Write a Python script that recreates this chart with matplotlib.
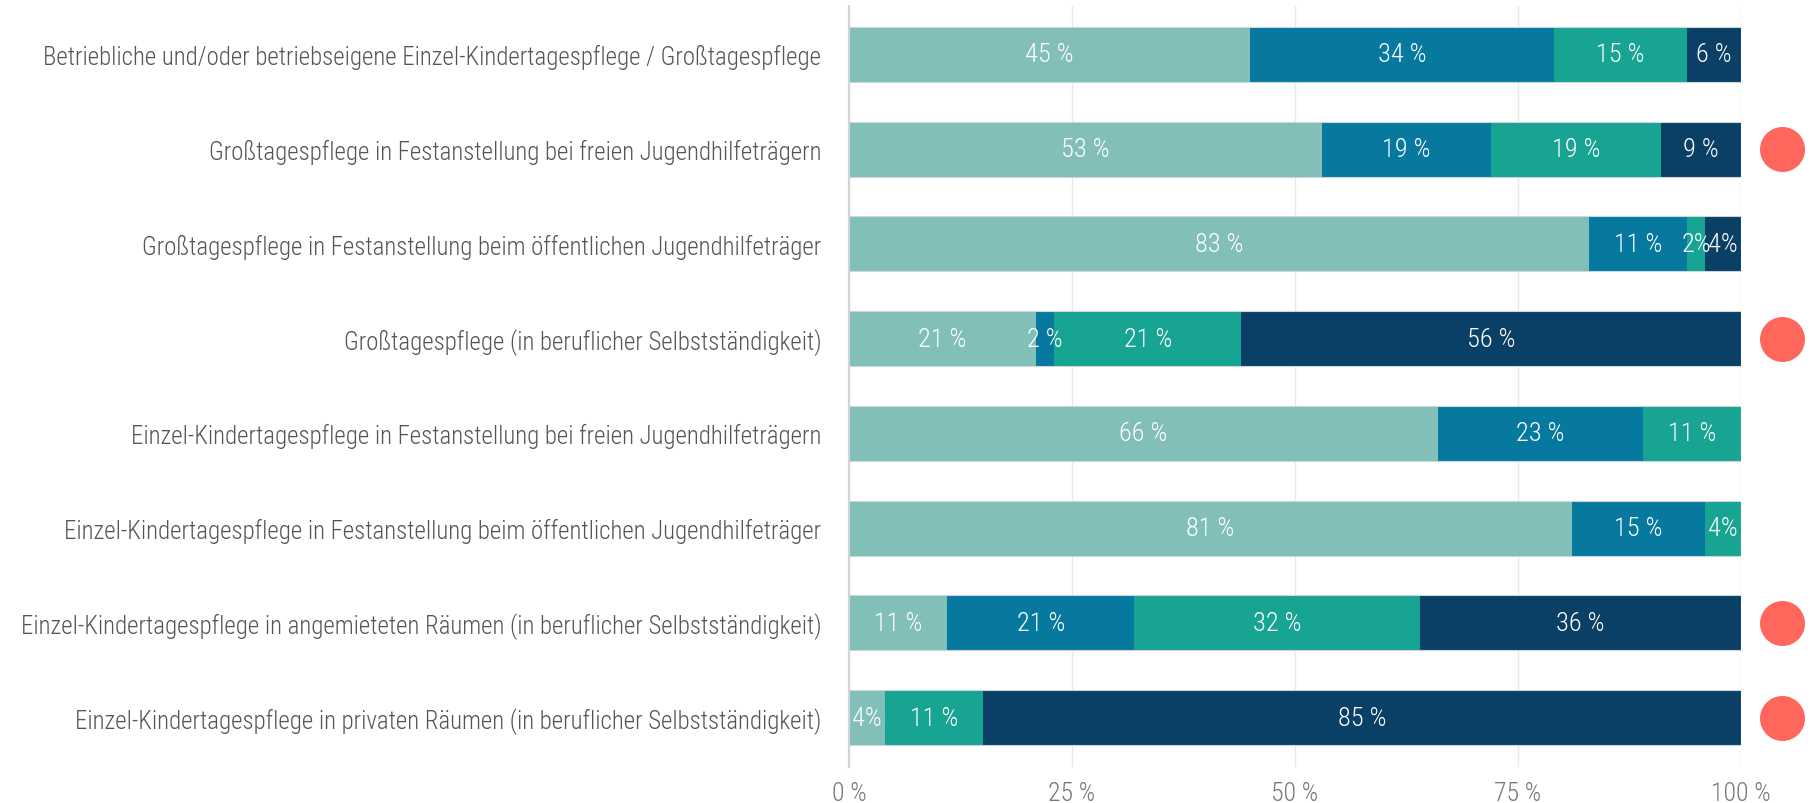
import matplotlib
matplotlib.use("Agg")
import matplotlib.pyplot as plt
from matplotlib import font_manager

# Data: share of each answer category per form of Kindertagespflege (percent)
categories = [
    "Betriebliche und/oder betriebseigene Einzel-Kindertagespflege / Großtagespflege",
    "Großtagespflege in Festanstellung bei freien Jugendhilfeträgern",
    "Großtagespflege in Festanstellung beim öffentlichen Jugendhilfeträger",
    "Großtagespflege (in beruflicher Selbstständigkeit)",
    "Einzel-Kindertagespflege in Festanstellung bei freien Jugendhilfeträgern",
    "Einzel-Kindertagespflege in Festanstellung beim öffentlichen Jugendhilfeträger",
    "Einzel-Kindertagespflege in angemieteten Räumen (in beruflicher Selbstständigkeit)",
    "Einzel-Kindertagespflege in privaten Räumen (in beruflicher Selbstständigkeit)",
]
series_1 = [45, 53, 83, 21, 66, 81, 11, 4]
series_2 = [34, 19, 11, 2, 23, 15, 21, 0]
series_3 = [15, 19, 2, 21, 11, 4, 32, 11]
series_4 = [6, 9, 4, 56, 0, 0, 36, 85]
# rows marked with a dot on the right
marked_rows = [1, 3, 6, 7]
# labels written without the space before "%"
compact_labels = {(2, 2), (2, 3), (5, 2), (7, 0)}

x_ticks = [0, 25, 50, 75, 100]
x_tick_labels = ["0 %", "25 %", "50 %", "75 %", "100 %"]

colors = ["#82BFB8", "#07799E", "#18A492", "#0A3F66"]
dot_color = "#FF675D"

available = {f.name for f in font_manager.fontManager.ttflist}
family = "DejaVu Sans"
for cand in ["Roboto Condensed", "Liberation Sans Narrow", "Open Sans Condensed", "Roboto"]:
    if cand in available:
        family = cand
        break
plt.rcParams["font.family"] = [family, "DejaVu Sans"]
plt.rcParams["font.weight"] = "light"

fig = plt.figure(figsize=(18.14, 8.04), dpi=100)
ax = fig.add_axes([849 / 1814, 1 - 768 / 804, (1741 - 849) / 1814, (768 - 7) / 804])

all_series = [series_1, series_2, series_3, series_4]
y = list(range(len(categories)))
bar_h = 0.58
left = [0] * len(categories)
for si, (vals, col) in enumerate(zip(all_series, colors)):
    ax.barh(y, vals, left=left, height=bar_h, color=col, linewidth=0, zorder=3)
    for row, (v, l0) in enumerate(zip(vals, left)):
        if v <= 0:
            continue
        txt = f"{v}%" if (row, si) in compact_labels else f"{v} %"
        ax.text(l0 + v / 2, row, txt, ha="center", va="center", color="white",
                fontsize=19, fontweight="light", zorder=4)
    left = [a + b for a, b in zip(left, vals)]

# thin outline around each full bar
ax.barh(y, left, height=bar_h, fill=False, edgecolor="#c9d7e0", linewidth=0.8, zorder=3.5)

# markers right of the bars
ax.scatter([104.6] * len(marked_rows), marked_rows, s=1050, color=dot_color,
           clip_on=False, zorder=5, linewidths=0)

ax.set_xlim(0, 100)
ax.set_ylim(7.52, -0.51)
ax.set_yticks(y)
ax.set_yticklabels(categories, fontsize=17.9, color="#555555", fontweight="light")
ax.set_xticks(x_ticks)
ax.set_xticklabels(x_tick_labels, fontsize=18.5, color="#777777", fontweight="light")
ax.tick_params(axis="y", length=0, pad=20)
ax.tick_params(axis="x", length=0, pad=10)

for s in ["top", "right", "bottom"]:
    ax.spines[s].set_visible(False)
ax.spines["left"].set_color("#d4d4d4")
ax.spines["left"].set_linewidth(1.6)

ax.grid(axis="x", color="#e8e8e8", linewidth=1, zorder=0)
ax.set_axisbelow(True)

fig.savefig("out.png", dpi=100)
